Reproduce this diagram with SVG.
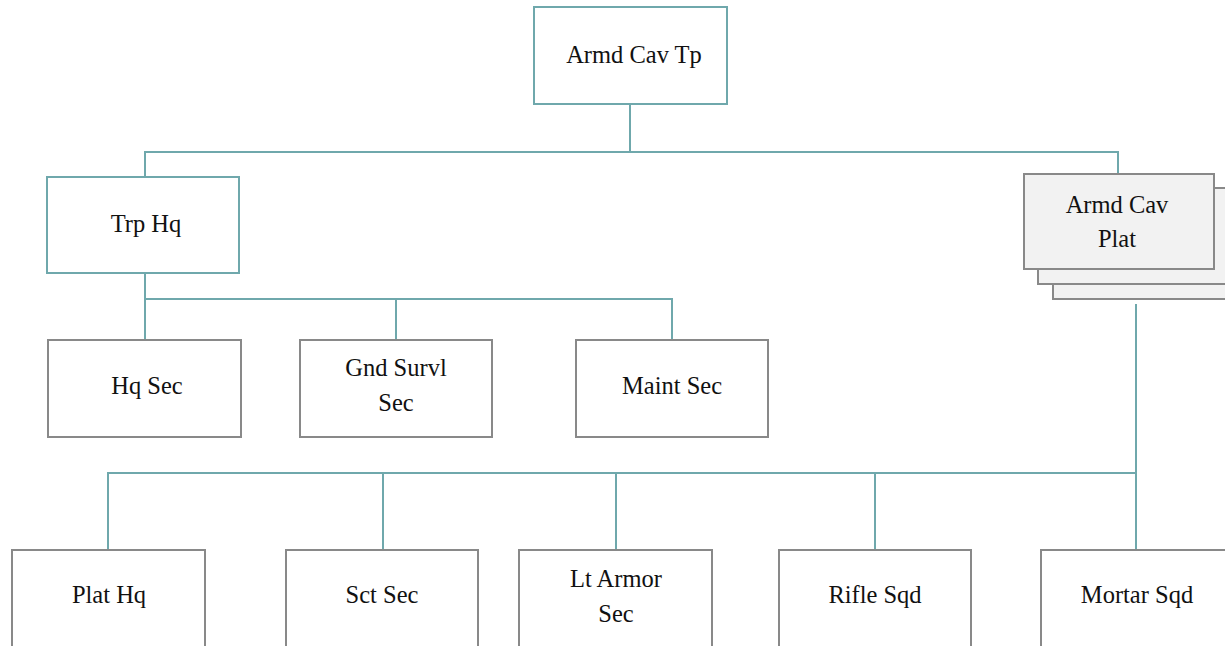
<svg xmlns="http://www.w3.org/2000/svg" width="1225" height="646" viewBox="0 0 1225 646">
<style>
.t{fill:#fff;stroke:#6fa8ac;stroke-width:2}
.g{fill:#fff;stroke:#898989;stroke-width:2}
.s{fill:#f2f2f2;stroke:#898989;stroke-width:2}
.c{fill:none;stroke:#6fa8ac;stroke-width:2}
text{font-family:"Liberation Serif","Times New Roman",serif;font-size:24.5px;fill:#111;text-anchor:middle}
</style>
<rect width="1225" height="646" fill="#fff"/>
<g id="connectors">
<path class="c" d="M630 104V152M145 177V152H1118V175"/>
<path class="c" d="M145 273V299H672V340M396 299V340M145 299V340"/>
<path class="c" d="M1136 304V550M108 550V473H1136M383 473V550M616 473V550M875 473V550"/>
</g>
<g id="armd-cav-tp"><rect class="t" x="534" y="7" width="193" height="97"/><text x="634" y="63">Armd Cav Tp</text></g>
<g id="trp-hq"><rect class="t" x="47" y="177" width="192" height="96"/><text x="146" y="232">Trp Hq</text></g>
<g id="hq-sec"><rect class="g" x="48" y="340" width="193" height="97"/><text x="147" y="394">Hq Sec</text></g>
<g id="gnd-survl-sec"><rect class="g" x="300" y="340" width="192" height="97"/><text x="396" y="376">Gnd Survl</text><text x="396" y="411">Sec</text></g>
<g id="maint-sec"><rect class="g" x="576" y="340" width="192" height="97"/><text x="672" y="394">Maint Sec</text></g>
<g id="armd-cav-plat">
<rect class="s" x="1053" y="203" width="190" height="96"/>
<rect class="s" x="1038" y="188" width="190" height="96"/>
<rect class="s" x="1024" y="174" width="190" height="95"/>
<text x="1117" y="213">Armd Cav</text><text x="1117" y="247">Plat</text>
</g>
<g id="plat-hq"><rect class="g" x="12" y="550" width="193" height="110"/><text x="109" y="603">Plat Hq</text></g>
<g id="sct-sec"><rect class="g" x="286" y="550" width="192" height="110"/><text x="382" y="603">Sct Sec</text></g>
<g id="lt-armor-sec"><rect class="g" x="519" y="550" width="193" height="110"/><text x="616" y="587">Lt Armor</text><text x="616" y="622">Sec</text></g>
<g id="rifle-sqd"><rect class="g" x="779" y="550" width="192" height="110"/><text x="875" y="603">Rifle Sqd</text></g>
<g id="mortar-sqd"><rect class="g" x="1041" y="550" width="192" height="110"/><text x="1137" y="603">Mortar Sqd</text></g>
</svg>
